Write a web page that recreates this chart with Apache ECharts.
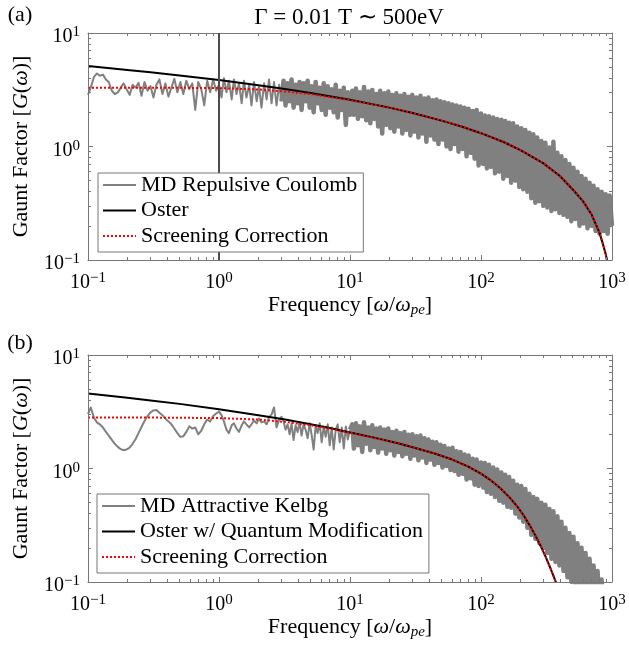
<!DOCTYPE html>
<html><head><meta charset="utf-8">
<script src="https://cdn.jsdelivr.net/npm/echarts@6/dist/echarts.min.js"></script>
<style>html,body{margin:0;padding:0;background:#fff}#c{width:629px;height:646px}</style>
</head><body><div id="c"></div>
<script>
// ---------- data ----------
const freq = [
  0.100,0.105,0.111,0.117,0.123,0.130,0.137,0.144,0.152,0.160,
  0.169,0.178,0.187,0.197,0.208,0.219,0.231,0.243,0.256,0.270,
  0.285,0.300,0.316,0.333,0.351,0.370,0.390,0.411,0.433,0.456,
  0.481,0.507,0.534,0.563,0.593,0.625,0.659,0.694,0.732,0.771,
  0.813,0.856,0.903,0.951,1.000,
  1.045,1.09,1.14,1.19,1.25,1.30,1.36,1.42,1.49,1.55,
  1.62,1.70,1.77,1.85,1.94,2.02,2.11,2.21,2.31,2.41,
  2.52,2.63,2.75,2.88,3.00,
  3.11,3.22,3.34,3.46,3.58,3.71,3.84,3.98,4.12,4.27,
  4.42,4.58,4.75,4.92,5.09,5.28,5.47,5.66,5.87,6.08,
  6.30,6.52,6.76,7.00,7.25,7.51,7.78,8.06,8.35,8.65,
  8.96,9.29,9.62,10.0,
  10.4,10.7,11.1,11.5,11.9,12.4,12.8,13.3,13.8,14.3,
  14.8,15.3,15.9,16.4,17.0,17.6,18.3,18.9,19.6,20.3,
  21.0,21.8,22.6,23.4,24.2,25.1,26.0,26.9,27.9,28.9,
  29.9,31.0,32.1,33.3,34.5,35.7,37.0,38.3,39.7,41.1,
  42.6,44.1,45.7,47.3,49.0,50.8,52.6,54.5,56.5,58.5,
  60.6,62.8,65.0,67.4,69.8,72.3,74.9,77.6,80.4,83.3,
  86.3,89.4,92.6,95.9,100,
  104,107,111,115,119,124,128,133,138,143,
  148,153,159,164,170,176,183,189,196,203,
  210,218,226,234,242,251,260,269,279,289,
  299,310,321,333,345,357,370,383,397,411,
  426,441,457,473,490,508,526,545,565,585,
  606,628,650,674,698,723,749,776,804,833,
  863,894,926,959,1000
];
const mdRepulsive = [
  2.85,3.3,4.1,4.4,4.2,4.3,3.9,3.7,3.1,2.9,
  3.0,3.3,3.6,3.2,2.85,3.5,3.3,3.65,2.8,3.7,
  3.1,3.4,2.7,3.5,3.9,2.9,3.6,2.75,3.3,3.95,
  3.0,3.7,2.9,3.8,3.2,3.6,2.1,3.7,3.2,2.3,
  3.8,3.0,3.9,3.1,3.5,
  2.7,4.0,3.0,3.8,2.6,3.9,2.9,3.6,2.4,3.8,
  2.7,3.5,2.3,3.7,2.5,3.4,2.2,3.6,2.6,3.9,
  2.4,3.7,2.3,3.5,2.5,
  3.8,2.3,3.6,2.5,3.9,2.2,3.5,2.4,3.7,2.1,
  3.6,2.5,3.8,2.2,3.4,2.0,3.7,2.4,3.3,2.1,
  3.6,1.9,3.4,2.2,3.2,2.0,3.5,1.8,3.1,2.1,
  3.3,1.55,3.0,1.9,
  3.1,1.9,3.25,1.75,3.0,1.85,3.35,1.7,3.05,1.6,
  3.15,1.75,2.9,1.5,3.1,1.3,2.95,1.55,3.05,1.45,
  2.85,1.35,2.95,1.5,2.8,1.3,2.9,1.4,2.75,1.25,
  2.85,1.35,2.7,1.2,2.8,1.3,2.65,1.1,2.7,1.25,
  2.55,1.15,2.6,1.05,2.5,1.15,2.45,1.0,2.4,0.95,
  2.35,1.05,2.3,0.9,2.25,0.95,2.2,0.82,2.15,0.88,
  2.05,0.78,2.1,0.68,1.95,
  0.70,1.88,0.64,1.85,0.66,1.8,0.58,1.75,0.6,1.72,
  0.52,1.68,0.55,1.62,0.48,1.6,0.5,1.5,0.44,1.45,
  0.42,1.4,0.4,1.32,0.35,1.28,0.32,1.2,0.33,1.12,
  0.3,1.08,0.29,0.98,0.27,1.1,0.28,0.88,0.26,0.82,
  0.25,0.76,0.24,0.7,0.22,0.65,0.23,0.6,0.2,0.55,
  0.21,0.52,0.19,0.48,0.2,0.45,0.18,0.42,0.17,0.4,
  0.18,0.38,0.17,0.37,0.2
];
const mdAttractive = [
  3.01,3.45,2.8,2.55,2.45,2.3,2.1,1.95,1.79,1.65,
  1.55,1.48,1.45,1.47,1.53,1.65,1.82,2.05,2.32,2.62,
  2.9,3.12,3.25,3.28,3.1,2.95,2.75,2.6,2.45,2.25,
  2.05,1.9,1.92,2.1,2.35,2.25,2.3,2.0,2.15,2.45,
  2.7,2.6,2.9,3.05,3.17,
  2.95,2.6,2.2,2.05,2.4,2.5,2.25,2.1,2.4,2.6,
  2.45,2.3,2.45,2.65,2.5,2.75,2.55,2.6,2.45,2.85,
  3.0,3.45,2.3,2.7,2.85,
  2.6,2.2,2.45,2.0,2.5,1.78,2.4,2.1,2.55,1.95,
  2.45,2.2,1.85,2.5,2.0,1.47,2.4,2.05,2.5,1.7,
  2.35,1.9,2.45,1.6,2.3,1.47,2.2,2.45,1.7,2.3,
  1.5,2.35,1.8,2.2,
  2.45,1.5,2.5,1.6,2.35,1.4,2.55,1.65,2.3,1.45,
  2.4,1.55,2.25,1.38,2.3,1.5,2.2,1.35,2.25,1.45,
  2.1,1.3,2.15,1.4,2.05,1.28,2.1,1.35,1.98,1.22,
  2.0,1.3,1.92,1.18,1.95,1.25,1.85,1.12,1.8,1.2,
  1.72,1.08,1.7,1.12,1.62,1.02,1.58,1.05,1.5,0.97,
  1.52,0.95,1.42,0.88,1.4,0.9,1.33,0.8,1.3,0.82,
  1.22,0.72,1.2,0.7,1.13,
  0.68,1.12,0.62,1.08,0.6,1.02,0.56,0.98,0.52,0.92,
  0.5,0.88,0.46,0.84,0.45,0.78,0.4,0.72,0.37,0.7,
  0.34,0.66,0.3,0.6,0.26,0.56,0.24,0.54,0.22,0.5,
  0.2,0.48,0.18,0.44,0.16,0.42,0.15,0.38,0.14,0.34,
  0.125,0.3,0.11,0.27,0.1,0.25,0.092,0.22,0.085,0.2,
  0.08,0.18,0.075,0.16,0.07,0.14,0.065,0.125,0.06,0.105,
  0.055,0.09,0.05,0.08,0.045
];
const curveFreqA = [0.1,0.2,0.3,0.5,1,2,3,5,10,20,30,50,70,100,150,200,300,400,500,600,700,800,850,900,950,1000];
const osterA     = [5.12,4.73,4.51,4.23,3.85,3.47,3.24,2.96,2.58,2.20,1.97,1.69,1.51,1.31,1.09,0.93,0.71,0.55,0.42,0.33,0.25,0.175,0.14,0.11,0.08,0.053];
const screenA    = [3.30,3.30,3.30,3.29,3.27,3.18,3.07,2.89,2.56,2.20,1.97,1.69,1.51,1.31,1.09,0.93,0.71,0.55,0.42,0.33,0.25,0.175,0.14,0.11,0.08,0.053];
const curveFreqB = [0.1,0.2,0.3,0.5,1,2,3.2,5,7,10,15,24,32,45,58,80,100,120,140,165,188,210,238,260,284,310,338,369,400];
const osterB     = [4.58,4.20,3.98,3.71,3.33,2.95,2.70,2.45,2.27,2.08,1.88,1.65,1.51,1.35,1.22,1.04,0.90,0.78,0.673,0.557,0.467,0.391,0.309,0.257,0.21,0.169,0.133,0.103,0.079];
const screenB    = [2.81,2.81,2.81,2.80,2.78,2.70,2.57,2.40,2.24,2.06,1.87,1.65,1.51,1.35,1.22,1.04,0.90,0.78,0.673,0.557,0.467,0.391,0.309,0.257,0.21,0.169,0.133,0.103,0.079];
const vline = 1;
const xRange = [0.1, 1000];
const yRange = [0.1, 10];
const xMajorTicks = [0.1, 1, 10, 100, 1000];
const xTickExp = ['\u22121', '0', '1', '2', '3'];
const yMajorTicks = [0.1, 1, 10];
const yTickExp = ['\u22121', '0', '1'];
const xMinorTicks = [0.2,0.3,0.4,0.5,0.6,0.7,0.8,0.9,2,3,4,5,6,7,8,9,20,30,40,50,60,70,80,90,200,300,400,500,600,700,800,900];
const yMinorTicks = [0.2,0.3,0.4,0.5,0.6,0.7,0.8,0.9,2,3,4,5,6,7,8,9];
const legendA = ['MD Repulsive Coulomb', 'Oster', 'Screening Correction'];
const legendB = ['MD Attractive Kelbg', 'Oster w/ Quantum Modification', 'Screening Correction'];
// index where the MD sampling becomes a dense band (x = 3 for panel a, x = 10 for panel b)
const denseStartA = 69;
const denseStartB = 103;

// ---------- styling ----------
const FONT = "'Liberation Serif','Times New Roman',serif";
const AX = '#777777';
const grids = [
  {left: 88, top: 33, width: 524, height: 227},
  {left: 88, top: 355, width: 524, height: 227}
];

function expFormatter(ticks, exps) {
  return function (v) {
    let k = 0;
    for (let i = 0; i < ticks.length; i++) if (Math.abs(Math.log10(ticks[i]) - Math.log10(v)) < 1e-6) k = i;
    return '{b|10}{s|' + exps[k] + '}';
  };
}
const tickRich = {
  b: {fontSize: 20, fontFamily: FONT, color: '#000', lineHeight: 24},
  s: {fontSize: 15, fontFamily: FONT, color: '#000', lineHeight: 15, verticalAlign: 'top'}
};

function axis(dim, g, pos, ticks, len, line, extra) {
  const r = dim === 'x' ? xRange : yRange;
  return Object.assign({
    type: 'log', logBase: 10, gridIndex: g, min: r[0], max: r[1], position: pos,
    axisLine: {show: line, onZero: false, lineStyle: {color: AX, width: 1}},
    axisTick: {show: true, inside: true, length: len, customValues: ticks, lineStyle: {color: AX, width: 1}},
    axisLabel: {show: false},
    splitLine: {show: false}, minorTick: {show: false}, minorSplitLine: {show: false},
    axisPointer: {show: false}, silent: true, z: 3
  }, extra || {});
}

const xName = '{t|Frequency [}{i|\u03c9}{t|/}{i|\u03c9}{u|pe}{t|]}';
const yName = '{t|Gaunt Factor [}{i|G}{t|(}{i|\u03c9}{t|)]}';
const nameRich = {
  t: {fontSize: 22, fontFamily: FONT, color: '#000', lineHeight: 26},
  i: {fontSize: 22, fontFamily: FONT, fontStyle: 'italic', color: '#000', lineHeight: 26},
  u: {fontSize: 15, fontFamily: FONT, fontStyle: 'italic', color: '#000', lineHeight: 13, verticalAlign: 'bottom'}
};

const xAxes = [], yAxes = [];
for (let g = 0; g < 2; g++) {
  xAxes.push(axis('x', g, 'bottom', xMajorTicks, 5, true, {
    axisLabel: {show: true, customValues: xMajorTicks, margin: 11, formatter: expFormatter(xMajorTicks, xTickExp), rich: tickRich},
    name: xName, nameLocation: 'middle', nameGap: 32, nameTextStyle: {rich: nameRich}
  }));
  xAxes.push(axis('x', g, 'bottom', xMinorTicks, 3, false));
  xAxes.push(axis('x', g, 'top', xMajorTicks, 5, true));
  xAxes.push(axis('x', g, 'top', xMinorTicks, 3, false));
  yAxes.push(axis('y', g, 'left', yMajorTicks, 5, true, {
    axisLabel: {show: true, customValues: yMajorTicks, margin: 8, padding: [8, 0, 0, 0], formatter: expFormatter(yMajorTicks, yTickExp), rich: tickRich},
    name: yName, nameLocation: 'middle', nameGap: 54, nameRotate: 90, nameTextStyle: {rich: nameRich}
  }));
  yAxes.push(axis('y', g, 'left', yMinorTicks, 3, false));
  yAxes.push(axis('y', g, 'right', yMajorTicks, 5, true));
  yAxes.push(axis('y', g, 'right', yMinorTicks, 3, false));
}

function pairs(xs, ys, i0, i1) {
  const out = [];
  for (let i = i0; i <= i1; i++) out.push([xs[i], ys[i]]);
  return out;
}

const GRAY = '#808080';
function mdSeries(name, g, ys, i0, i1, width, extra) {
  return Object.assign({
    name: name, type: 'line', xAxisIndex: g * 4, yAxisIndex: g * 4,
    data: pairs(freq, ys, i0, i1), symbol: 'none', showSymbol: false, clip: true, silent: true,
    lineStyle: {color: GRAY, width: width, join: 'round'}, itemStyle: {color: GRAY}, z: 2
  }, extra || {});
}
function curve(name, g, xs, ys, color, type) {
  return {
    name: name, type: 'line', xAxisIndex: g * 4, yAxisIndex: g * 4,
    data: pairs(xs, ys, 0, xs.length - 1), symbol: 'none', showSymbol: false, clip: true, silent: true,
    lineStyle: {color: color, width: 2, type: type}, itemStyle: {color: color}, z: 2
  };
}

const N = freq.length - 1;
const series = [
  mdSeries('MD Repulsive Coulomb', 0, mdRepulsive, 0, denseStartA, 2, {
    markLine: {silent: true, symbol: 'none', label: {show: false}, animation: false,
      lineStyle: {color: '#4d4d4d', width: 2, type: 'solid'}, data: [{xAxis: vline}]}
  }),
  mdSeries('MD Repulsive Coulomb', 0, mdRepulsive, denseStartA, N, 4.5),
  curve('Oster', 0, curveFreqA, osterA, '#000', 'solid'),
  curve('Screening Correction', 0, curveFreqA, screenA, '#ff0000', [2, 2]),
  mdSeries('MD Attractive Kelbg', 1, mdAttractive, 0, denseStartB, 2),
  mdSeries('MD Attractive Kelbg', 1, mdAttractive, denseStartB, N, 4.5),
  curve('Oster w/ Quantum Modification', 1, curveFreqB, osterB, '#000', 'solid'),
  curve('Screening Correction', 1, curveFreqB, screenB, '#ff0000', [2, 2])
];

function legend(names, left, top) {
  return {
    data: names, orient: 'vertical', left: left, top: top,
    itemWidth: 33, itemHeight: 12, itemGap: 3.5, padding: [1, 6, 5, 4],
    borderColor: AX, borderWidth: 1, borderRadius: 0, backgroundColor: '#fff',
    itemStyle: {color: 'rgba(0,0,0,0)', borderColor: 'rgba(0,0,0,0)', borderWidth: 0},
    textStyle: {fontFamily: FONT, fontSize: 22, color: '#000', lineHeight: 20},
    selectedMode: false, z: 10
  };
}

const txt = (s, x, y) => ({type: 'text', x: x, y: y, z: 20,
  style: {text: s, fontSize: 22, fontFamily: FONT, fill: '#000', align: 'center', verticalAlign: 'middle'}});

const chart = echarts.init(document.getElementById('c'), null, {renderer: 'canvas'});
chart.setOption({
  animation: false,
  backgroundColor: '#fff',
  grid: grids.map(g => Object.assign({outerBoundsMode: 'none', containLabel: false}, g)),
  xAxis: xAxes,
  yAxis: yAxes,
  legend: [legend(legendA, 98, 173), legend(legendB, 97, 494)],
  series: series,
  graphic: [
    Object.assign(txt('\u0393 = 0.01 T \u223c 500eV', 349, 18), {style: {text: '\u0393 = 0.01 T \u223c 500eV', fontSize: 23, fontFamily: FONT, fill: '#000', align: 'center', verticalAlign: 'middle'}}),
    txt('(a)', 20, 15),
    txt('(b)', 20, 343)
  ]
});
</script></body></html>
